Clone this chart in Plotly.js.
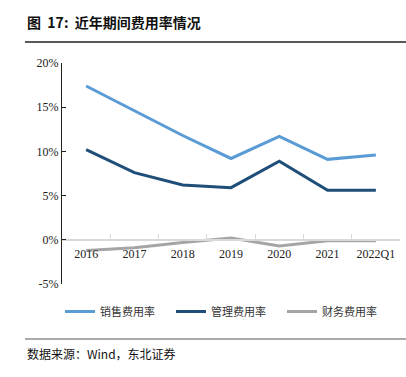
<!DOCTYPE html>
<html><head><meta charset="utf-8">
<script src="https://cdn.plot.ly/plotly-3.0.1.min.js"></script>
<style>html,body{margin:0;padding:0;background:#fff}#c{width:406px;height:377px}</style>
</head><body><div id="c"></div>
<script>
const categories = ['2016','2017','2018','2019','2020','2021','2022Q1'];
const salesRate = [17.4, 14.6, 11.8, 9.2, 11.7, 9.1, 9.6];
const adminRate = [10.2, 7.6, 6.2, 5.9, 8.9, 5.6, 5.6];
const financeRate = [-1.2, -0.9, -0.3, 0.2, -0.7, -0.1, -0.1];
const seriesNames = ['销售费用率','管理费用率','财务费用率'];
const yTicks = [-5, 0, 5, 10, 15, 20];
const yTickText = ['-5%','0%','5%','10%','15%','20%'];

const serif = 'Liberation Serif, Times New Roman, serif';
const cjk = 'Noto Sans CJK SC, sans-serif';
const colors = ['#5B9BD5','#1F4E79','#A5A5A5'];
const mk = (y,i)=>({x:categories,y:y,name:seriesNames[i],type:'scatter',mode:'lines',
  line:{color:colors[i],width:3},cliponaxis:false});
const data=[mk(salesRate,0),mk(adminRate,1),mk(financeRate,2)];
const L=62,R=6,T=63,B=93,W=406,H=377;
const pw=W-L-R, ph=H-T-B;
const px=x=>(x-L)/pw, py=y=>(H-B-y)/ph;
const layout={
  width:W,height:H,margin:{l:L,r:R,t:T,b:B},
  paper_bgcolor:'#fff',plot_bgcolor:'#fff',showlegend:true,
  xaxis:{type:'category',anchor:'free',position:0.2,showline:true,linecolor:'#d9d9d9',linewidth:2,
    ticks:'inside',tickson:'boundaries',ticklen:5,tickcolor:'#d9d9d9',showgrid:false,zeroline:false,
    ticklabelstandoff:3,
    tickfont:{family:serif,size:12,color:'#222'},range:[-0.5,6.5]},
  yaxis:{range:[-5,20],tickvals:yTicks,ticktext:yTickText,showgrid:false,zeroline:false,
    showline:true,linecolor:'#222',linewidth:1,ticks:'inside',ticklen:4,tickcolor:'#222',
    tickfont:{family:serif,size:12,color:'#222'}},
  legend:{orientation:'h',x:px(60),y:py(297),xanchor:'left',yanchor:'top',
    entrywidth:66,entrywidthmode:'pixels',font:{family:cjk,size:11,color:'#333'},itemwidth:30},
  annotations:[
    {xref:'paper',yref:'paper',x:px(25),y:py(22),xanchor:'left',yanchor:'middle',showarrow:false,
     text:'<b>图  17:  近年期间费用率情况</b>',font:{family:cjk,size:14,color:'#111'}},
    {xref:'paper',yref:'paper',x:px(25),y:py(353),xanchor:'left',yanchor:'middle',showarrow:false,
     text:'数据来源：Wind，东北证券',font:{family:cjk,size:12,color:'#111'}}
  ],
  shapes:[
    {type:'line',xref:'paper',yref:'paper',x0:px(25),x1:px(406),y0:py(42),y1:py(42),line:{color:'#222',width:1.5}},
    {type:'line',xref:'paper',yref:'paper',x0:px(25),x1:px(406),y0:py(339),y1:py(339),line:{color:'#555',width:1}}
  ]
};
Plotly.newPlot('c',data,layout,{displayModeBar:false,staticPlot:true});
</script></body></html>
